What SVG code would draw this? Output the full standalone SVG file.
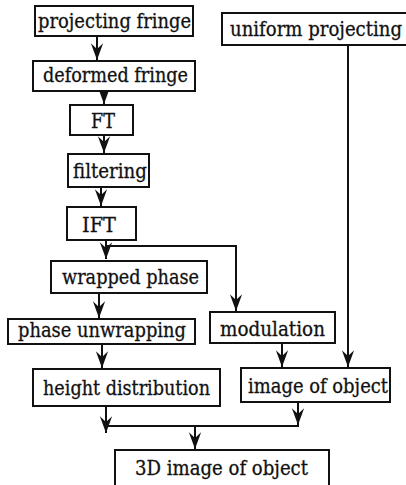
<svg xmlns="http://www.w3.org/2000/svg" width="406" height="485" viewBox="0 0 406 485">
<style>
.box{fill:#fff;stroke:#111;stroke-width:2}
.t{font-family:"DejaVu Serif","Liberation Serif",serif;font-size:20px;fill:#111;stroke:#111;stroke-width:0.3;text-anchor:middle}
.c{fill:none;stroke:#111;stroke-width:2}
</style>
<defs>
<marker id="ah" markerUnits="userSpaceOnUse" markerWidth="20" markerHeight="20" viewBox="-16 -8 18 16" refX="0" refY="0" orient="auto">
<path d="M0,0 L-15,-5.5 L-10,0 L-15,5.5 Z" fill="#111"/>
</marker>
</defs>
<rect width="406" height="485" fill="#fff"/>
<g id="connectors">
<path class="c" d="M97,36 V60" marker-end="url(#ah)"/>
<path class="c" d="M104,91 V104" marker-end="url(#ah)"/>
<path class="c" d="M104,135 V153" marker-end="url(#ah)"/>
<path class="c" d="M101,187 V206" marker-end="url(#ah)"/>
<path class="c" d="M106,240 V259" marker-end="url(#ah)"/>
<path class="c" d="M106,246 H236 V311" marker-end="url(#ah)"/>
<path class="c" d="M99,293 V318" marker-end="url(#ah)"/>
<path class="c" d="M102,344 V368" marker-end="url(#ah)"/>
<path class="c" d="M282,343 V367" marker-end="url(#ah)"/>
<path class="c" d="M348,45 V367" marker-end="url(#ah)"/>
<path class="c" d="M106,406 V433" marker-end="url(#ah)"/>
<path class="c" d="M298,402 V425" marker-end="url(#ah)"/>
<path class="c" d="M106,426 H299"/>
<path class="c" d="M195,426 V449" marker-end="url(#ah)"/>
</g>
<g id="projecting-fringe"><rect class="box" x="35" y="6" width="158" height="30"/><text class="t" x="114.5" y="28" textLength="153" lengthAdjust="spacingAndGlyphs">projecting fringe</text></g>
<g id="deformed-fringe"><rect class="box" x="33" y="61" width="162" height="30"/><text class="t" x="115.5" y="82" textLength="145" lengthAdjust="spacingAndGlyphs">deformed fringe</text></g>
<g id="ft"><rect class="box" x="70" y="105" width="63" height="30"/><text class="t" x="103" y="128" textLength="24" lengthAdjust="spacingAndGlyphs">FT</text></g>
<g id="filtering"><rect class="box" x="68" y="154" width="81" height="33"/><text class="t" x="110" y="178" textLength="74" lengthAdjust="spacingAndGlyphs">filtering</text></g>
<g id="ift"><rect class="box" x="67" y="207" width="69" height="33"/><text class="t" x="99" y="232" textLength="34" lengthAdjust="spacingAndGlyphs">IFT</text></g>
<g id="wrapped-phase"><rect class="box" x="51" y="261" width="156" height="32"/><text class="t" x="130.5" y="284" textLength="137" lengthAdjust="spacingAndGlyphs">wrapped phase</text></g>
<g id="phase-unwrapping"><rect class="box" x="8" y="319" width="187" height="25"/><text class="t" x="102" y="337" textLength="168" lengthAdjust="spacingAndGlyphs">phase unwrapping</text></g>
<g id="modulation"><rect class="box" x="210" y="312" width="125" height="31"/><text class="t" x="272.5" y="336" textLength="105" lengthAdjust="spacingAndGlyphs">modulation</text></g>
<g id="height-distribution"><rect class="box" x="33" y="369" width="187" height="37"/><text class="t" x="126.5" y="395" textLength="167" lengthAdjust="spacingAndGlyphs">height distribution</text></g>
<g id="image-of-object"><rect class="box" x="241" y="368" width="149" height="34"/><text class="t" x="318" y="393" textLength="140" lengthAdjust="spacingAndGlyphs">image of object</text></g>
<g id="uniform-projecting"><rect class="box" x="222" y="13" width="186" height="32"/><text class="t" x="316" y="36" textLength="172" lengthAdjust="spacingAndGlyphs">uniform projecting</text></g>
<g id="3d-image"><rect class="box" x="115" y="450" width="214" height="36"/><text class="t" x="221.5" y="475" textLength="173" lengthAdjust="spacingAndGlyphs">3D image of object</text></g>
</svg>
